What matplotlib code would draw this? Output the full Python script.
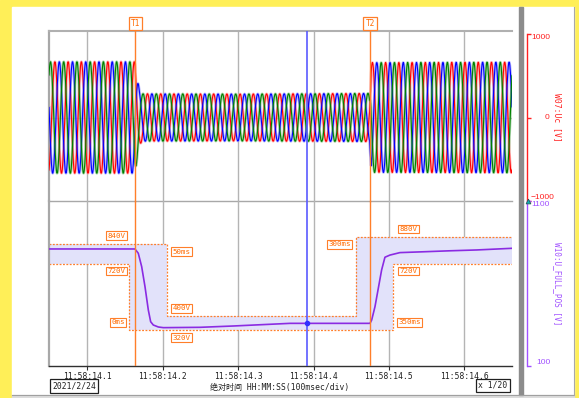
import numpy as np
import matplotlib
matplotlib.use("Agg")
import matplotlib.pyplot as plt
from matplotlib.patches import Rectangle
from matplotlib.transforms import offset_copy

W, H, DPI = 579, 398, 100

# ---------------- data ----------------
tick_times = [0.1, 0.2, 0.3, 0.4, 0.5, 0.6]
tick_labels = ["11:58:14.1", "11:58:14.2", "11:58:14.3",
               "11:58:14.4", "11:58:14.5", "11:58:14.6"]
t_start, t_end = 0.0492, 0.6632          # seconds after 11:58:14.0
t1_time = 0.1637
t2_time = 0.4749
cursor_time = 0.3909

# W07:Uc three-phase voltage: amplitude envelope
wave_freq_hz = 57.0
wave_env_t = [0.0492, 0.1635, 0.1660, 0.1690, 0.1730, 0.3000, 0.4745, 0.4765, 0.6632]
wave_env_amp = [670, 670, 500, 330, 285, 282, 290, 660, 665]
phase_names = ["Ua", "Ub", "Uc"]
phase_shift_deg = [0, -120, 120]

# W10:U_FULL_POS trace
trace_t = [0.0492, 0.1632, 0.1676, 0.1721, 0.1765, 0.1809, 0.1840, 0.1875,
           0.1942, 0.2008, 0.2494, 0.2936, 0.3688, 0.4749, 0.4771, 0.4815,
           0.4859, 0.4903, 0.4947, 0.5013, 0.5146, 0.5456, 0.5810, 0.6164, 0.6632]
trace_v = [808, 808, 782, 701, 580, 439, 368, 348,
           336, 332, 334, 342, 358, 358, 378, 459,
           570, 681, 758, 771, 786, 791, 797, 802, 812]

# tolerance envelope (steps after fault start)
fault_start = 0.1557
env_offsets = [0.0, 0.05, 0.30, 0.35]
env_upper = [840, 840, 400, 880, 880, 880]
env_lower = [720, 320, 320, 320, 720, 720]

# annotation labels: text, anchor time offset (s), anchor value, dx px, dy px (up +)
env_labels = [
    ("840V", 0.00, 840, -13, 8),
    ("720V", 0.00, 720, -13, -7.5),
    ("50ms", 0.05, 840, 14.5, -8),
    ("400V", 0.05, 400, 14.5, 8),
    ("0ms", 0.00, 320, -11, 7.3),
    ("320V", 0.05, 320, 14.5, -8),
    ("880V", 0.35, 880, 15, 8),
    ("300ms", 0.30, 880, -16, -7.2),
    ("720V", 0.35, 720, 15, -7.5),
    ("350ms", 0.35, 320, 16.5, 7.3),
]

top_ylim = (-1000, 1000)
bot_ylim = (100, 1100)

# ---------------- colours ----------------
YELLOW = "#FFEF58"
ORANGE = "#FF7F2A"
ORANGE_T = "#FF6A00"
PURPLE = "#8A2BE2"
PURPLE_AX = "#A050FF"
RED_AX = "#FF2020"
GRID = "#B4B4B4"
phase_colors = ["#FF0000", "#0000FF", "#008000"]
phase_pale = ["#FF9A9A", "#9A9AFF", "#8FC88F"]
MONO = "DejaVu Sans Mono"

fig = plt.figure(figsize=(W / DPI, H / DPI), dpi=DPI)

def px_box(x0, y0, x1, y1):
    return [x0 / W, 1 - y1 / H, (x1 - x0) / W, (y1 - y0) / H]

# background / frame decoration in pixel coordinates
bg = fig.add_axes([0, 0, 1, 1], zorder=0)
bg.set_xlim(0, W)
bg.set_ylim(H, 0)
bg.axis("off")
bg.add_patch(Rectangle((0, 0), W, H, color=YELLOW))
bg.add_patch(Rectangle((11.5, 6.7), 562.5, 388.5, color="white"))
bg.add_patch(Rectangle((11.5, 395), 562.5, 3, color="#DCDCDC"))
bg.plot([11.5, 574], [395, 395], color="#A0A0A0", lw=0.8)
bg.add_patch(Rectangle((519, 6.7), 4, 388.5, color="#8C8C8C"))
bg.plot([573.5, 573.5], [6.7, 395], color="#A8A8A8", lw=0.8)

# ---------------- top panel ----------------
ax_top = fig.add_axes(px_box(49, 31, 512, 200.7), zorder=2)
ax_top.set_facecolor("none")
ax_top.set_xlim(t_start, t_end)
ax_top.set_ylim(top_ylim[0], top_ylim[0] + (top_ylim[1] - top_ylim[0]) * (200.7 - 31) / (200.7 - 34.3))

t = np.linspace(t_start, t_end, 1500)
amp = np.interp(t, wave_env_t, wave_env_amp)
waves = [amp * np.sin(2 * np.pi * wave_freq_hz * t + np.deg2rad(s)) for s in phase_shift_deg]
for w, c in zip(waves, phase_pale):
    ax_top.plot(t, w, color=c, lw=2.0, alpha=0.75, zorder=2)
for w, c in zip(waves, phase_colors):
    ax_top.plot(t, w, color=c, lw=0.8, zorder=3)

ax_top.set_xticks(tick_times)
ax_top.set_yticks([0])
ax_top.tick_params(length=0, labelbottom=False, labelleft=False)
ax_top.grid(True, color=GRID, lw=1.0, zorder=0)
ax_top.set_axisbelow(True)
ax_top.spines["right"].set_visible(False)
ax_top.spines["left"].set_color("#A8A8A8")
ax_top.spines["left"].set_linewidth(1.6)
ax_top.spines["top"].set_color("#B0B0B0")
ax_top.spines["top"].set_linewidth(1.5)
ax_top.spines["bottom"].set_color("#A8A8A8")
ax_top.spines["bottom"].set_linewidth(1.0)

# ---------------- bottom panel ----------------
ax_bot = fig.add_axes(px_box(49, 200.7, 512, 366), zorder=2)
ax_bot.set_facecolor("none")
ax_bot.set_xlim(t_start, t_end)
ax_bot.set_ylim(*bot_ylim)

env_times = [t_start] + [fault_start + o for o in env_offsets] + [t_end]
ax_bot.fill_between(env_times, env_lower, env_upper, step="post",
                    color="#E2E2FA", lw=0, zorder=1)
ax_bot.plot(env_times, env_upper, drawstyle="steps-post", color=ORANGE,
            lw=0.9, ls=(0, (1.5, 1.2)), zorder=2)
ax_bot.plot(env_times, env_lower, drawstyle="steps-post", color=ORANGE,
            lw=0.9, ls=(0, (1.5, 1.2)), zorder=2)
ax_bot.plot(trace_t, trace_v, color=PURPLE, lw=1.2, zorder=4)
ax_bot.plot([cursor_time], [np.interp(cursor_time, trace_t, trace_v)], "o",
            color="#3030FF", ms=3, zorder=6)

for txt, off, val, dx, dy in env_labels:
    ax_bot.annotate(txt, xy=(fault_start + off, val), xytext=(dx * 0.72, dy * 0.72),
                    textcoords="offset points", ha="center", va="center",
                    family=MONO, fontsize=5.4, color=ORANGE_T, zorder=7,
                    bbox=dict(boxstyle="square,pad=0.18", fc="white",
                              ec=ORANGE, lw=0.8))

ax_bot.set_xticks(tick_times)
ax_bot.set_xticklabels(tick_labels, family=MONO, fontsize=5.8, color="#202020")
ax_bot.set_yticks([])
ax_bot.tick_params(axis="x", direction="out", length=3, width=0.8, pad=1.2,
                   color="#303030")
ax_bot.grid(True, axis="x", color=GRID, lw=1.0, zorder=0)
ax_bot.set_axisbelow(True)
ax_bot.spines["top"].set_visible(False)
ax_bot.spines["right"].set_visible(False)
ax_bot.spines["left"].set_color("#A8A8A8")
ax_bot.spines["left"].set_linewidth(1.6)
ax_bot.spines["bottom"].set_color("#303030")
ax_bot.spines["bottom"].set_linewidth(1.0)

# markers T1 / T2 and cursor
for ax in (ax_top, ax_bot):
    ax.axvline(cursor_time, color="#5A5AFF", lw=1.2, zorder=5)
for tt, name in [(t1_time, "T1"), (t2_time, "T2")]:
    ax_top.axvline(tt, ymin=0, ymax=1.0 + 3 / 169.7, color=ORANGE, lw=1.0,
                   zorder=5, clip_on=False)
    ax_bot.axvline(tt, color=ORANGE, lw=1.0, zorder=5)
    tr = offset_copy(ax_top.get_xaxis_transform(), fig=fig, x=0, y=7.3, units="dots")
    ax_top.text(tt, 1.0, name, transform=tr, ha="center", va="center",
                family=MONO, fontsize=5.6, color=ORANGE_T, zorder=8,
                bbox=dict(boxstyle="square,pad=0.25", fc="white", ec=ORANGE, lw=0.9))

# ---------------- right scales ----------------
def right_scale(y0, y1, lim, color, labels):
    ax = fig.add_axes(px_box(527, y0, 528, y1), zorder=3)
    ax.set_facecolor("none")
    ax.set_ylim(*lim)
    ax.set_xticks([])
    for s in ["top", "right", "bottom"]:
        ax.spines[s].set_visible(False)
    ax.spines["left"].set_color(color)
    ax.spines["left"].set_linewidth(1.0)
    ax.set_yticks([v for v, _, _, _ in labels])
    ax.tick_params(axis="y", direction="in", length=3, width=1.0, color=color,
                   labelleft=False)
    for v, txt, va, dx in labels:
        tr = offset_copy(ax.get_yaxis_transform(), fig=fig, x=dx, y=0, units="dots")
        ax.text(0, v, txt, transform=tr, ha="left", va=va, fontsize=6,
                family="Liberation Sans", color=color)
    return ax

right_scale(34.3, 200.7, top_ylim, RED_AX,
            [(-1000, "\u22121000", "bottom", 4), (0, "0", "center", 17.5),
             (1000, "1000", "top", 4)])
ax_rb = right_scale(200.7, 366, bot_ylim, PURPLE_AX,
                    [(100, "100", "bottom", 9), (1100, "1100", "top", 4)])
ax_rb.plot([0], [1100], marker="^", ms=3.5, color="#10B0B0", mec="#205050",
           mew=0.5, clip_on=False, zorder=9)

fig.text(557 / W, 1 - 117 / H, "W07:Uc [V]", rotation=270, ha="center", va="center",
         family=MONO, fontsize=5.8, color=RED_AX)
fig.text(557 / W, 1 - 284 / H, "W10:U_FULL_POS [V]", rotation=270, ha="center",
         va="center", family=MONO, fontsize=5.6, color=PURPLE_AX)

# ---------------- bottom texts ----------------
fig.text(74 / W, 1 - 386 / H, "2021/2/24", ha="center", va="center", family=MONO,
         fontsize=5.8, color="#202020",
         bbox=dict(boxstyle="square,pad=0.25", fc="white", ec="#202020", lw=0.9))
fig.text(493 / W, 1 - 385.5 / H, "x 1/20", ha="center", va="center", family=MONO,
         fontsize=5.8, color="#202020",
         bbox=dict(boxstyle="square,pad=0.3", fc="white", ec="#202020", lw=0.9))
fig.text(280 / W, 1 - 387 / H, "绝对时间 HH:MM:SS(100msec/div)", ha="center",
         va="center", family=[MONO, "Noto Sans CJK SC"], fontsize=5.8, color="#202020")

fig.savefig("out.png", dpi=DPI)
